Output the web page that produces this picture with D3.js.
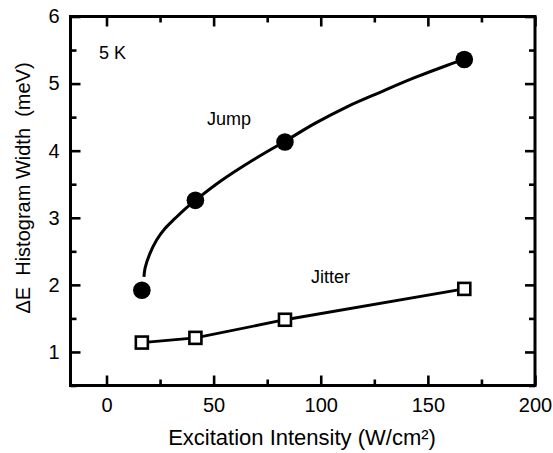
<!DOCTYPE html>
<html>
<head>
<meta charset="utf-8">
<script src="https://cdn.jsdelivr.net/npm/d3@7"></script>
<style>
  html, body { margin: 0; padding: 0; background: #fff; }
  svg { display: block; }
  text { font-family: Arial, "Liberation Sans", Helvetica, sans-serif; fill: #000; }
</style>
</head>
<body>
<svg id="chart" width="553" height="453"></svg>
<script>
// Excitation intensity (W/cm²) at which each histogram was measured
const intensity = [16.5, 41.5, 83.3, 167];
// Histogram widths (meV) at 5 K
const jumpWidth = [1.92, 3.26, 4.13, 5.36];
const jitterWidth = [1.14, 1.21, 1.48, 1.94];

// Fitted trend through the jump widths (intensity, width)
const jumpFitX = [17.5, 18.0, 20.3, 23.4, 27.3, 32.0, 36.6, 41.5, 53.0, 68.4, 83.3, 97.5, 112.0, 127.7, 143.2, 158.8, 167];
const jumpFitY = [2.12, 2.25, 2.47, 2.67, 2.84, 2.99, 3.13, 3.26, 3.54, 3.86, 4.14, 4.41, 4.65, 4.87, 5.08, 5.27, 5.36];

// Axis ticks
const xMajor = [0, 50, 100, 150, 200];
const xMinor = [25, 75, 125, 175];
const yMajor = [1, 2, 3, 4, 5, 6];
const yMinor = [0.5, 1.5, 2.5, 3.5, 4.5, 5.5];

const svg = d3.select("#chart");
const plotL = 70.5, plotR = 535, plotT = 16.5, plotB = 385.5;

const x = d3.scaleLinear().domain([-16.8, 200]).range([plotL, plotR]);
const y = d3.scaleLinear().domain([0.5, 6]).range([plotB, plotT]);

const majorLen = 10, minorLen = 6;

function styleAxis(g) {
  g.select(".domain").remove();
  g.selectAll(".tick line").attr("stroke", "#000").attr("stroke-width", 2.6);
}

// Bottom axis with labels
const gB = svg.append("g").attr("transform", `translate(0,${plotB})`)
  .call(d3.axisBottom(x).tickValues(xMajor).tickSize(-majorLen).tickFormat(d3.format("d")));
styleAxis(gB);
gB.selectAll("text").attr("y", 26).attr("dy", null)
  .attr("font-size", 20).attr("font-family", "Arial, 'Liberation Sans', sans-serif");
svg.append("g").attr("transform", `translate(0,${plotB})`)
  .call(d3.axisBottom(x).tickValues(xMinor).tickSize(-minorLen).tickFormat(""))
  .call(styleAxis);

// Top axis, ticks only
svg.append("g").attr("transform", `translate(0,${plotT})`)
  .call(d3.axisTop(x).tickValues(xMajor).tickSize(-majorLen).tickFormat(""))
  .call(styleAxis);
svg.append("g").attr("transform", `translate(0,${plotT})`)
  .call(d3.axisTop(x).tickValues(xMinor).tickSize(-minorLen).tickFormat(""))
  .call(styleAxis);

// Left axis with labels
const gL = svg.append("g").attr("transform", `translate(${plotL},0)`)
  .call(d3.axisLeft(y).tickValues(yMajor).tickSize(-majorLen).tickPadding(11).tickFormat(d3.format("d")));
styleAxis(gL);
gL.selectAll("text").attr("font-size", 20).attr("font-family", "Arial, 'Liberation Sans', sans-serif");
svg.append("g").attr("transform", `translate(${plotL},0)`)
  .call(d3.axisLeft(y).tickValues(yMinor).tickSize(-minorLen).tickFormat(""))
  .call(styleAxis);

// Right axis, ticks only
svg.append("g").attr("transform", `translate(${plotR},0)`)
  .call(d3.axisRight(y).tickValues(yMajor).tickSize(-majorLen).tickFormat(""))
  .call(styleAxis);
svg.append("g").attr("transform", `translate(${plotR},0)`)
  .call(d3.axisRight(y).tickValues(yMinor).tickSize(-minorLen).tickFormat(""))
  .call(styleAxis);

// Plot frame
svg.append("rect")
  .attr("x", plotL).attr("y", plotT)
  .attr("width", plotR - plotL).attr("height", plotB - plotT)
  .attr("fill", "none").attr("stroke", "#000").attr("stroke-width", 3);

// Jump: fitted curve and filled circles
const fitPts = jumpFitX.map((v, i) => [v, jumpFitY[i]]);
svg.append("path")
  .attr("d", d3.line().x(d => x(d[0])).y(d => y(d[1])).curve(d3.curveCatmullRom.alpha(0.5))(fitPts))
  .attr("fill", "none").attr("stroke", "#000").attr("stroke-width", 3);

svg.append("g").selectAll("circle")
  .data(intensity.map((v, i) => [v, jumpWidth[i]]))
  .join("circle")
  .attr("cx", d => x(d[0])).attr("cy", d => y(d[1])).attr("r", 8.8)
  .attr("fill", "#000");

// Jitter: connecting line and open squares
const jitPts = intensity.map((v, i) => [v, jitterWidth[i]]);
svg.append("path")
  .attr("d", d3.line().x(d => x(d[0])).y(d => y(d[1]))(jitPts))
  .attr("fill", "none").attr("stroke", "#000").attr("stroke-width", 2.8);

const sq = 12;
svg.append("g").selectAll("rect")
  .data(jitPts)
  .join("rect")
  .attr("x", d => x(d[0]) - sq / 2).attr("y", d => y(d[1]) - sq / 2)
  .attr("width", sq).attr("height", sq)
  .attr("fill", "#fff").attr("stroke", "#000").attr("stroke-width", 2.6);

// Annotations
svg.append("text").attr("x", 99).attr("y", 59).attr("font-size", 18).text("5 K");
svg.append("text").attr("x", 207).attr("y", 125).attr("font-size", 18).text("Jump");
svg.append("text").attr("x", 311).attr("y", 283).attr("font-size", 18).text("Jitter");

// Axis titles
svg.append("text")
  .attr("x", 302).attr("y", 445)
  .attr("text-anchor", "middle").attr("font-size", 22)
  .text("Excitation Intensity (W/cm²)");

svg.append("text")
  .attr("transform", "translate(30,188) rotate(-90)")
  .attr("text-anchor", "middle").attr("font-size", 20)
  .text("ΔE\u00a0\u00a0Histogram Width\u00a0\u00a0(meV)");
</script>
</body>
</html>
